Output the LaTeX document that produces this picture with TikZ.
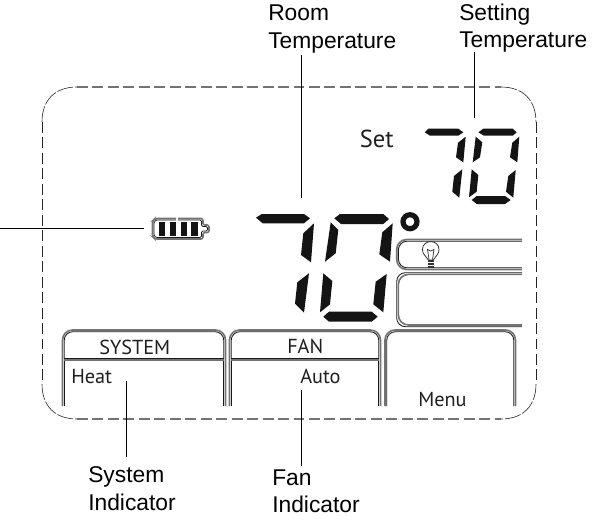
\documentclass[tikz,border=0pt]{standalone}
\usepackage{fontspec}
\setmainfont{Liberation Sans}
\newfontfamily\lcdfont{PT Sans}
\tikzset{
  x=0.75pt,y=-0.75pt,
  lbl/.style={inner sep=0pt,anchor=north west,align=left,font=\fontsize{17.1}{20.3}\selectfont},
  lcd/.style={inner sep=0pt,anchor=base west,font=\lcdfont\fontsize{15.2}{17}\selectfont,text=black!88},
  leader/.style={draw=black,line width=0.75pt},
  seg/.style={fill=black!92,draw=none},
  outerln/.style={draw=black!55,line width=1.2pt,rounded corners=7.5pt},
  innerln/.style={draw=black!90,line width=0.65pt,rounded corners=6.5pt},
  dashside/.style={draw=black!85,line width=0.5pt,dash pattern=on 8.2pt off 3.4pt},
  dashflat/.style={draw=black!55,line width=1.2pt,dash pattern=on 8.2pt off 3.4pt},
  dashcorner/.style={draw=black!85,line width=0.45pt,dash pattern=on 12pt off 1.5pt},
}
\begin{document}
\begin{tikzpicture}
\useasboundingbox[fill=white] (0,0) rectangle (604,521);

% dashed outline
\draw[dashside] (42,122) -- (42,384);
\draw[dashside] (536,122) -- (536,384);
\draw[dashflat] (77,87) -- (501,87);
\draw[dashflat] (77,419) -- (501,419);
\draw[dashcorner] (42,122) .. controls (42,100) and (55,87) .. (77,87);
\draw[dashcorner] (501,87) .. controls (523,87) and (536,100) .. (536,122);
\draw[dashcorner] (42,384) .. controls (42,406) and (55,419) .. (77,419);
\draw[dashcorner] (536,384) .. controls (536,406) and (523,419) .. (501,419);

% large 7
\fill[seg] (256,217.7) -- (261.7,214) -- (304,214) -- (310,218.3) -- (304,223.3) -- (262.7,223.3) -- cycle;
\fill[seg] (314,223.3) -- (311,262.3) -- (301,255) -- (303.3,233.3) -- cycle;
\fill[seg] (309,273.3) -- (304,312.7) -- (295,303.7) -- (297.3,282.3) -- cycle;
% large 0
\fill[seg] (334.3,218.3) -- (340,214) -- (383.3,214) -- (389,219) -- (383.3,224) -- (341,224) -- cycle;
\fill[seg] (330.7,222.3) -- (338.3,230) -- (335.7,253.3) -- (325,261.7) -- cycle;
\fill[seg] (392.7,223.3) -- (390,261.7) -- (379.3,254.3) -- (382.3,232.3) -- cycle;
\fill[seg] (323.3,273.3) -- (332.3,281) -- (330,304.3) -- (320,312.3) -- cycle;
\fill[seg] (386.7,274) -- (383.3,312.3) -- (373.3,304.3) -- (375.7,281.7) -- cycle;
\fill[seg] (323.3,316.7) -- (329,311.7) -- (371.7,311.7) -- (377.7,316.7) -- (371.7,321.7) -- (329,321.7) -- cycle;
% degree
\draw[black!92,line width=3.9pt] (410,221.7) circle (7);

% small 7
\fill[seg] (424.7,132.3) -- (428.3,128.7) -- (458.3,128.7) -- (463.3,132.3) -- (458.3,135.7) -- (430,135.7) -- cycle;
\fill[seg] (465.7,136.7) -- (463.3,162.3) -- (456,157.3) -- (458,142.7) -- cycle;
\fill[seg] (462.3,169.3) -- (459.3,197.7) -- (452.3,191.7) -- (454,176) -- cycle;
% small 0
\fill[seg] (478.3,132.3) -- (483.3,128.7) -- (512.7,128.7) -- (516.7,132.3) -- (512.7,135.7) -- (484,135.7) -- cycle;
\fill[seg] (475.7,136.7) -- (482.3,142.3) -- (480,157.3) -- (472.7,162.3) -- cycle;
\fill[seg] (519.3,136.7) -- (517.3,162.3) -- (510,157.3) -- (512.3,142.7) -- cycle;
\fill[seg] (471.7,169.3) -- (478.3,175) -- (476.7,191.7) -- (469,197.3) -- cycle;
\fill[seg] (515.7,170) -- (513.3,197.7) -- (506,191.7) -- (508.3,176) -- cycle;
\fill[seg] (471.7,200) -- (476.7,196) -- (505,196) -- (510.7,200) -- (505,204) -- (476.7,204) -- cycle;

% right-hand message boxes
\draw[outerln] (522,239.5) -- (396.7,239.5) -- (396.7,269.5) -- (522,269.5);
\draw[innerln] (522,241.2) -- (398.4,241.2) -- (398.4,267.8) -- (522,267.8);
\draw[innerln] (522,272.7) -- (396.7,272.7) -- (396.7,326.7) -- (522,326.7);
\draw[outerln] (522,274.4) -- (398.4,274.4) -- (398.4,325) -- (522,325);

% bulb
\draw[black!85,line width=0.55pt] (428.3,260) .. controls (425,255) and (422.5,254) .. (422.5,249.5)
   .. controls (422.5,239) and (439,239) .. (439,249.5)
   .. controls (439,254) and (436.5,255) .. (433.3,260) -- cycle;
\draw[black!85,line width=0.5pt] (429,259.5) -- (427.5,249.5) -- (430.8,251) -- (434,249.5) -- (432.5,259.5);
\fill[black!80] (428,260) rectangle (433.6,267.5);
\draw[white,line width=0.35pt] (428,262.3) -- (433.6,262.3) (428,264.8) -- (433.6,264.8);

% battery
\draw[black!55,line width=1.2pt,rounded corners=1.5pt]
  (176,218.5) -- (155,218.5) -- (152.5,221) -- (152.5,236.5) -- (155,239) -- (203,239) -- (203,232.5) -- (209,232.5) -- (209,225) -- (203,225) -- (203,218.5) -- (178,218.5);
\draw[black!90,line width=0.5pt,rounded corners=1pt]
  (176,220) -- (156,220) -- (154,222) -- (154,235.5) -- (156,237.5) -- (201.5,237.5) -- (201.5,231) -- (207.5,231) -- (207.5,226.5) -- (201.5,226.5) -- (201.5,220) -- (178,220);
\fill[seg] (159,222) rectangle (165,236);
\fill[seg] (170,222) rectangle (176,236);
\fill[seg] (181,222) rectangle (187,236);
\fill[seg] (191.3,222) rectangle (197.7,236);

% bottom tabs
\draw[outerln] (62.5,406) -- (62.5,330) -- (225.5,330) -- (225.5,406);
\draw[innerln] (64.2,358) -- (64.2,331.7) -- (223.8,331.7) -- (223.8,358);
\draw[black!90,line width=0.65pt] (64,358.6) -- (224,358.6);
\draw[black!55,line width=1.2pt] (64.2,360.2) -- (223.8,360.2);
\draw[black!90,line width=0.65pt] (64.2,360.5) -- (64.2,406) (223.8,360.5) -- (223.8,406);

\draw[outerln] (229.5,406) -- (229.5,330) -- (380.5,330) -- (380.5,406);
\draw[innerln] (231.2,358) -- (231.2,331.7) -- (378.8,331.7) -- (378.8,358);
\draw[black!90,line width=0.65pt] (231,358.6) -- (379,358.6);
\draw[black!55,line width=1.2pt] (231.2,360.2) -- (378.8,360.2);
\draw[black!90,line width=0.65pt] (231.2,360.5) -- (231.2,406) (378.8,360.5) -- (378.8,406);

\draw[outerln] (385,406) -- (385,330) -- (515.5,330) -- (515.5,406);
\draw[innerln] (386.7,406) -- (386.7,331.7) -- (513.8,331.7) -- (513.8,406);

% LCD texts
\node[lcd,font=\lcdfont\fontsize{18.4}{20}\selectfont] (settxt) at (359.5,147) {Set};
\node[lcd] (systemtxt) at (99,354) {SYSTEM};
\node[lcd] (fantxt) at (287,353.5) {FAN};
\node[lcd] (heattxt) at (71,383) {Heat};
\node[lcd] (autotxt) at (300,383) {Auto};
\node[lcd] (menutxt) at (418,406) {Menu};

% callout labels
\node[lbl] (room) at (268,5) {Room\\Temperature};
\node[lbl] (setting) at (459,3.5) {Setting\\Temperature};
\node[lbl] (system) at (88,466.8) {System\\Indicator};
\node[lbl] (fan) at (272,469.6) {Fan\\Indicator};

% connectors
\coordinate (roomTop) at (301.3,55);
\coordinate (roomEnd) at (301.3,198);
\coordinate (settingTop) at (474.5,52);
\coordinate (settingEnd) at (474.5,118);
\coordinate (battEnd) at (144,228.3);
\coordinate (battFree) at (0,228.3);
\coordinate (systemFree) at (126.5,456.7);
\coordinate (systemEnd) at (126.5,381);
\coordinate (fanFree) at (301.3,465.7);
\coordinate (fanEnd) at (301.3,390);
\draw[leader] (roomTop) -- (roomEnd);
\draw[leader] (settingTop) -- (settingEnd);
\draw[leader] (battFree) -- (battEnd);
\draw[leader] (systemFree) -- (systemEnd);
\draw[leader] (fanFree) -- (fanEnd);
\end{tikzpicture}
\end{document}
